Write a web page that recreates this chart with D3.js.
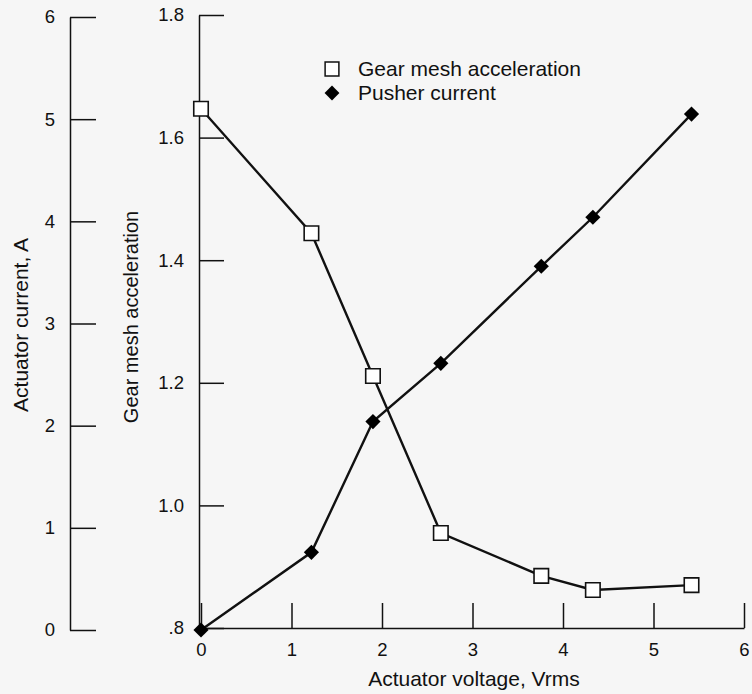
<!DOCTYPE html>
<html>
<head>
<meta charset="utf-8">
<script src="https://cdn.jsdelivr.net/npm/d3@7"></script>
<style>
  html, body { margin: 0; padding: 0; background: #f6f6f6; }
  svg { display: block; font-family: "Liberation Sans", Arial, sans-serif; }
  .axis path, .axis line { stroke: #111; stroke-width: 1.5; }
  .axis text { font-size: 18.5px; fill: #111; }
  .title { font-size: 21px; fill: #111; }
</style>
</head>
<body>
<svg id="canvas"></svg>
<script>
// chart values
const voltage = [0, 1.22, 1.9, 2.65, 3.76, 4.33, 5.42]
const gearAccel = [1.647, 1.444, 1.211, 0.955, 0.885, 0.862, 0.870]
const pusherCurrent = [0, 0.76, 2.04, 2.61, 3.56, 4.04, 5.05]

const xTicks = [0, 1, 2, 3, 4, 5, 6]
const currentTicks = [0, 1, 2, 3, 4, 5, 6]
const gearTicks = [0.8, 1.0, 1.2, 1.4, 1.6, 1.8]
const gearTickLabels = ['.8', '1.0', '1.2', '1.4', '1.6', '1.8']

const width = 752
const height = 694

let canvas = d3.select('#canvas')
    .attr('width', width)
    .attr('height', height)

// scales
let xScale = d3.scaleLinear().domain([0, 6]).range([201, 744])
let gearScale = d3.scaleLinear().domain([0.8, 1.8]).range([628, 15])
let currentScale = d3.scaleLinear().domain([0, 6]).range([630, 17])

let drawAxes = () => {
    let xAxis = d3.axisBottom(xScale)
        .tickValues(xTicks)
        .tickFormat(d3.format('d'))
        .tickSizeInner(-25)
        .tickSizeOuter(0)
        .tickPadding(15)

    canvas.append('g')
        .attr('class', 'axis')
        .attr('transform', 'translate(0, 628)')
        .call(xAxis)

    let gearAxis = d3.axisLeft(gearScale)
        .tickValues(gearTicks)
        .tickFormat((d, i) => gearTickLabels[i])
        .tickSizeInner(-25)
        .tickSizeOuter(0)
        .tickPadding(15)

    canvas.append('g')
        .attr('class', 'axis')
        .attr('transform', 'translate(199, 0)')
        .call(gearAxis)

    let currentAxis = d3.axisLeft(currentScale)
        .tickValues(currentTicks)
        .tickFormat(d3.format('d'))
        .tickSizeInner(-26)
        .tickSizeOuter(0)
        .tickPadding(15)

    canvas.append('g')
        .attr('class', 'axis')
        .attr('transform', 'translate(70, 0)')
        .call(currentAxis)

    // axis titles
    canvas.append('text')
        .attr('class', 'title')
        .attr('x', 474)
        .attr('y', 686)
        .attr('text-anchor', 'middle')
        .text('Actuator voltage, Vrms')

    canvas.append('text')
        .attr('class', 'title')
        .attr('transform', 'translate(28, 325) rotate(-90)')
        .attr('text-anchor', 'middle')
        .text('Actuator current, A')

    canvas.append('text')
        .attr('class', 'title')
        .attr('transform', 'translate(138, 317) rotate(-90)')
        .attr('text-anchor', 'middle')
        .style('font-size', '20px')
        .text('Gear mesh acceleration')
}

let drawSeries = () => {
    let gearLine = d3.line()
        .x((d, i) => xScale(voltage[i]))
        .y(d => gearScale(d))
    let currentLine = d3.line()
        .x((d, i) => xScale(voltage[i]))
        .y(d => currentScale(d))

    canvas.append('path')
        .datum(gearAccel)
        .attr('d', gearLine)
        .attr('fill', 'none')
        .attr('stroke', '#111')
        .attr('stroke-width', 2.4)

    canvas.append('path')
        .datum(pusherCurrent)
        .attr('d', currentLine)
        .attr('fill', 'none')
        .attr('stroke', '#111')
        .attr('stroke-width', 2.4)

    let square = d3.symbol().type(d3.symbolSquare).size(210)
    let diamond = d3.symbol().type(d3.symbolSquare).size(115)

    canvas.selectAll('.gear')
        .data(gearAccel)
        .enter()
        .append('path')
        .attr('class', 'gear')
        .attr('d', square)
        .attr('transform', (d, i) => `translate(${xScale(voltage[i])}, ${gearScale(d)})`)
        .attr('fill', '#fff')
        .attr('stroke', '#111')
        .attr('stroke-width', 1.6)

    canvas.selectAll('.pusher')
        .data(pusherCurrent)
        .enter()
        .append('path')
        .attr('class', 'pusher')
        .attr('d', diamond)
        .attr('transform', (d, i) => `translate(${xScale(voltage[i])}, ${currentScale(d)}) rotate(45)`)
        .attr('fill', '#000')
}

let drawLegend = () => {
    let legend = canvas.append('g').attr('transform', 'translate(332, 0)')

    legend.append('path')
        .attr('d', d3.symbol().type(d3.symbolSquare).size(190))
        .attr('transform', 'translate(0, 69)')
        .attr('fill', '#fff')
        .attr('stroke', '#111')
        .attr('stroke-width', 1.5)

    legend.append('path')
        .attr('d', d3.symbol().type(d3.symbolSquare).size(110))
        .attr('transform', 'translate(0, 93) rotate(45)')
        .attr('fill', '#000')

    legend.append('text')
        .attr('class', 'title')
        .attr('x', 26)
        .attr('y', 76)
        .text('Gear mesh acceleration')

    legend.append('text')
        .attr('class', 'title')
        .attr('x', 26)
        .attr('y', 100)
        .text('Pusher current')
}

drawAxes()
drawSeries()
drawLegend()
</script>
</body>
</html>
